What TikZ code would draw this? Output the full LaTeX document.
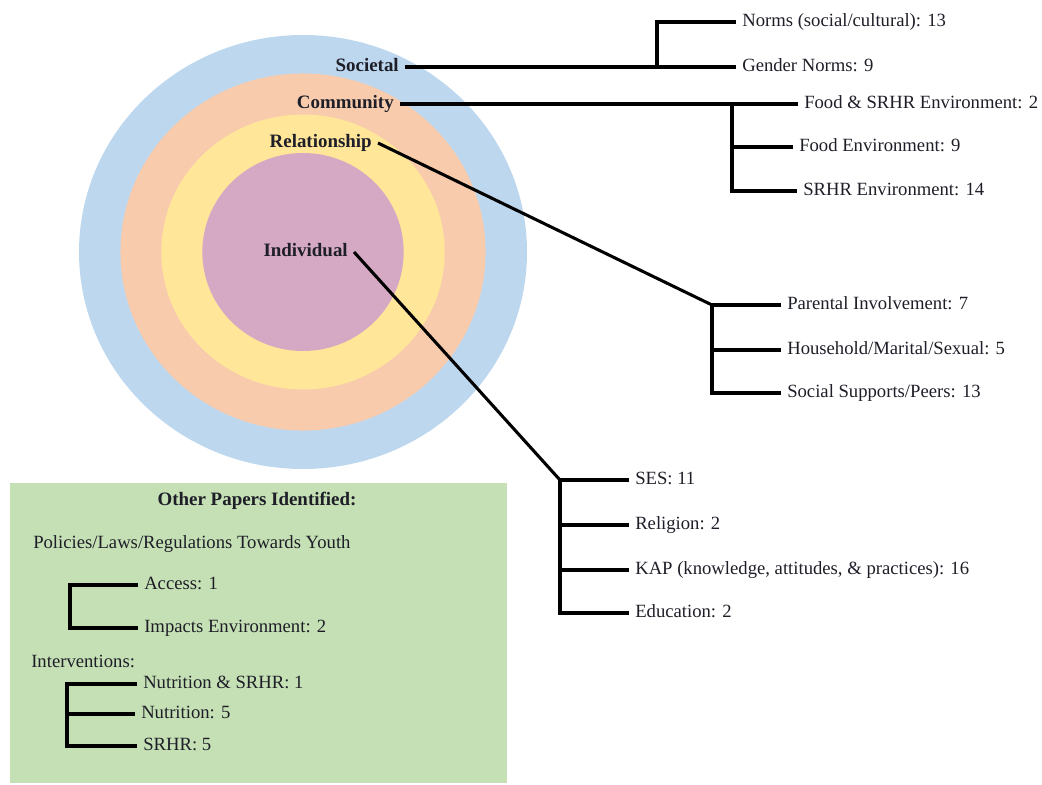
\documentclass[tikz,border=0pt]{standalone}
\usepackage{fontspec}
\setmainfont{Liberation Serif}
\definecolor{cblue}{HTML}{BDD7EE}
\definecolor{cpeach}{HTML}{F8CBAD}
\definecolor{cyellow}{HTML}{FFE699}
\definecolor{cpurple}{HTML}{D5A9C3}
\definecolor{cgreen}{HTML}{C5E0B4}
\definecolor{ctext}{HTML}{1E1E28}
\begin{document}
\begin{tikzpicture}[x=0.75pt,y=-0.75pt,
  lbl/.style={font=\fontsize{14.2}{16}\selectfont\bfseries, text=ctext, text height=0.66em, text depth=0pt, inner xsep=4.5pt, inner ysep=0pt, anchor=east},
  item/.style={font=\fontsize{14}{16}\selectfont, text=ctext, text height=0.66em, text depth=0pt, inner xsep=4.5pt, inner ysep=0pt, anchor=west},
  conn/.style={line width=2.3pt, line join=miter}]
\useasboundingbox (0,0) rectangle (1042,785);
% circles
\fill[cblue] (303,252) ellipse [x radius=168pt, y radius=162.75pt];
\fill[cpeach] (303,252) ellipse [x radius=136.9pt, y radius=133.9pt];
\fill[cyellow] (303,252) ellipse [x radius=106.3pt, y radius=103.1pt];
\fill[cpurple] (303,252) ellipse [x radius=75.5pt, y radius=74.25pt];
% green box
\fill[cgreen] (10,483) rectangle (507,783);
% level labels
\node[lbl] (soc) at (405,67) {Societal};
\node[lbl] (com) at (400,104) {Community};
\node[lbl] (rel) at (378,143) {Relationship};
\node[lbl] (ind) at (354,252) {Individual};
% items
\node[item] (norms) at (736,22) {Norms (social/cultural): 13};
\node[item] (gn) at (736,67) {Gender Norms: 9};
\node[item] (fs) at (798,104) {Food \& SRHR Environment: 2};
\node[item] (fe) at (793,147) {Food Environment: 9};
\node[item] (se) at (797,191) {SRHR Environment: 14};
\node[item] (pi) at (781,305) {Parental Involvement: 7};
\node[item] (hm) at (781,350) {Household/Marital/Sexual: 5};
\node[item] (ss) at (781,393) {Social Supports/Peers: 13};
\node[item] (ses) at (629,480) {SES: 11};
\node[item] (reg) at (629,525) {Religion: 2};
\node[item] (kap) at (629,570) {KAP (knowledge, attitudes, \& practices): 16};
\node[item] (edu) at (629,613) {Education: 2};
% junctions
\coordinate (sb) at (657,67);
\coordinate (cb) at (732,104);
\coordinate (rb) at (712,305);
\coordinate (ib) at (560,480);
% connectors
\draw[conn] (soc.east) -- (gn.west);
\draw[conn] (norms.west) -| (sb);
\draw[conn] (com.east) -- (fs.west);
\draw[conn] (cb) |- (se.west);
\draw[conn] (fe.west) -- (fe.west -| cb);
\draw[conn] (rel.east) -- (rb);
\draw[conn] (pi.west) -- (rb) |- (ss.west);
\draw[conn] (hm.west) -- (hm.west -| rb);
\draw[conn] (ind.east) -- (ib);
\draw[conn] (ses.west) -- (ib) |- (edu.west);
\draw[conn] (reg.west) -- (reg.west -| ib);
\draw[conn] (kap.west) -- (kap.west -| ib);
% other papers
\node[font=\fontsize{14.2}{16}\selectfont\bfseries, text=ctext, text height=0.66em, text depth=0pt, inner sep=0pt] (opi) at (257,501) {Other Papers Identified:};
\node[item] (pol) at (27,544) {Policies/Laws/Regulations Towards Youth};
\node[item] (acc) at (138,585) {Access: 1};
\node[item] (imp) at (138,628) {Impacts Environment: 2};
\coordinate (pbk) at (70,585);
\draw[conn] (acc.west) -- (pbk) |- (imp.west);
\node[item] (int) at (25,663) {Interventions:};
\node[item] (ns) at (137,684) {Nutrition \& SRHR: 1};
\node[item] (nu) at (135,714) {Nutrition: 5};
\node[item] (sr) at (137,746) {SRHR: 5};
\coordinate (ibk) at (67,684);
\draw[conn] (ns.west) -- (ibk) |- (sr.west);
\draw[conn] (nu.west) -- (nu.west -| ibk);
\end{tikzpicture}
\end{document}
